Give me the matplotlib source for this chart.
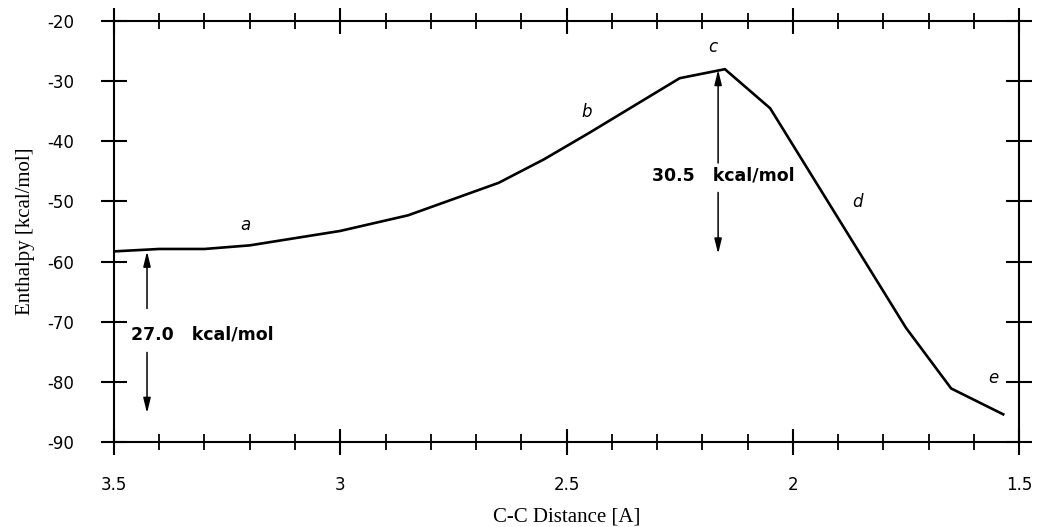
import numpy as np
import matplotlib.pyplot as plt
from matplotlib.ticker import MultipleLocator

plt.rcParams['axes.unicode_minus'] = False

# C-C distance (A) and enthalpy (kcal/mol)
distance = [3.5, 3.4, 3.3, 3.2, 3.0, 2.85, 2.75, 2.65, 2.55, 2.45, 2.25, 2.15, 2.05, 1.75, 1.65, 1.535]
enthalpy = [-58.3, -57.9, -57.9, -57.3, -54.9, -52.3, -49.6, -46.9, -43.0, -38.6, -29.5, -28.0, -34.5, -71.0, -81.1, -85.4]

# segment labels a-e
seg_names = ["a", "b", "c", "d", "e"]
seg_x = [3.21, 2.455, 2.176, 1.858, 1.557]
seg_y = [-53.9, -35.1, -24.3, -50.1, -79.4]

# barrier annotations
barrier_x = [3.427, 2.165]
barrier_text = ["27.0   kcal/mol", "30.5   kcal/mol"]
barrier_text_x = [3.462, 2.31]
barrier_text_y = [-72.2, -45.6]
barrier_top = [-58.3, -28.1]
barrier_bottom = [-85.2, -58.7]
barrier_up_from = [-67.8, -43.6]
barrier_down_from = [-75.1, -48.5]

fig = plt.figure(figsize=(10.39, 5.27), dpi=100)
ax = fig.add_axes([0.1097, 0.1613, 0.8711, 0.7987])

ax.plot(distance, enthalpy, color='black', linewidth=1.9, solid_joinstyle='miter')

ax.set_xlim(3.5, 1.5)
ax.set_ylim(-90, -20)

ax.xaxis.set_minor_locator(MultipleLocator(0.1))
ax.yaxis.set_major_locator(MultipleLocator(10))
ax.set_xticks([3.5, 3, 2.5, 2, 1.5])
ax.set_xticklabels(["3.5", "3", "2.5", "2", "1.5"])

for s in ax.spines.values():
    s.set_linewidth(1.5)

ax.tick_params(which='major', direction='inout', length=19, width=1.5,
               top=True, right=True, labelsize=12)
ax.tick_params(which='minor', direction='inout', length=11, width=1.3,
               top=True, right=False, left=False)
ax.tick_params(axis='x', which='major', pad=15)
ax.tick_params(axis='y', which='major', pad=19)

ax.set_xlabel('C-C Distance [A]', fontsize=15, family='Liberation Serif', labelpad=10)
ax.set_ylabel('Enthalpy [kcal/mol]', fontsize=15, family='Liberation Serif')
ax.yaxis.set_label_coords(-0.0873, 0.5)

for name, x, y in zip(seg_names, seg_x, seg_y):
    ax.text(x, y, name, fontsize=12, style='italic', ha='center', va='center')

arrow = dict(arrowstyle='-|>,head_length=0.9,head_width=0.22', color='black',
             lw=1.1, shrinkA=0, shrinkB=0)
for i in range(len(barrier_x)):
    ax.annotate('', xy=(barrier_x[i], barrier_top[i]),
                xytext=(barrier_x[i], barrier_up_from[i]), arrowprops=arrow)
    ax.annotate('', xy=(barrier_x[i], barrier_bottom[i]),
                xytext=(barrier_x[i], barrier_down_from[i]), arrowprops=arrow)
    ax.text(barrier_text_x[i], barrier_text_y[i], barrier_text[i], fontsize=12.5,
            fontweight='bold', ha='left', va='center')

plt.savefig('out.png', dpi=100)
